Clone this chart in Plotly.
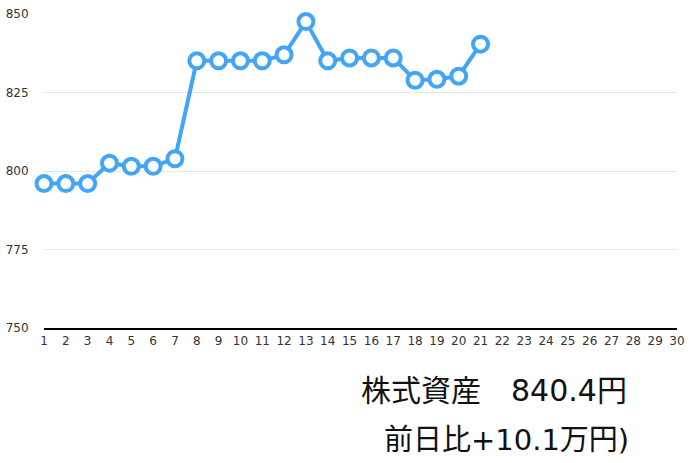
import plotly.graph_objects as go

# 日付 (1..30) と株式資産の推移
days = list(range(1, 31))
asset_days = list(range(1, 22))
asset_values = [796.0, 796.0, 796.0, 802.5, 801.5, 801.5, 803.9,
                835.1, 835.1, 835.1, 835.1, 837.0, 847.6, 835.1,
                836.0, 836.0, 836.0, 828.9, 829.2, 830.2, 840.4]
y_ticks = [750, 775, 800, 825, 850]
summary_line1 = "株式資産　840.4円"
summary_line2 = "前日比+10.1万円)"

BLUE = "#42a5f5"

fig = go.Figure()
fig.add_trace(go.Scatter(
    x=asset_days, y=asset_values, mode="lines+markers",
    line=dict(color=BLUE, width=4),
    marker=dict(size=15, color="white", line=dict(color=BLUE, width=4)),
    cliponaxis=False, showlegend=False,
))

fig.update_layout(
    width=696, height=463,
    margin=dict(l=44, r=19, t=14, b=135),
    plot_bgcolor="white", paper_bgcolor="white",
    font=dict(family="DejaVu Sans", color="#333"),
)
fig.update_xaxes(
    range=[1, 30], tickvals=days, ticktext=[str(d) for d in days],
    showgrid=False, zeroline=False, automargin=False,
    showline=True, linecolor="black", linewidth=1.5,
    ticks="outside", ticklen=1, tickcolor="rgba(0,0,0,0)",
    tickfont=dict(size=12),
)
fig.update_yaxes(
    range=[750, 850], tickvals=y_ticks, automargin=False,
    showgrid=True, gridcolor="#e6e6e6", gridwidth=1, zeroline=False,
    ticks="outside", ticklen=12, tickcolor="rgba(0,0,0,0)",
    tickfont=dict(size=12),
)

fig.add_annotation(
    text=summary_line1, xref="paper", yref="paper",
    x=0.4975, y=-0.198, xanchor="left", yanchor="middle",
    showarrow=False,
    font=dict(size=30, family="DejaVu Sans, Noto Sans CJK JP", color="#111"),
)
fig.add_annotation(
    text=summary_line2, xref="paper", yref="paper",
    x=0.534, y=-0.356, xanchor="left", yanchor="middle",
    showarrow=False,
    font=dict(size=29, family="DejaVu Sans, Noto Sans CJK JP", color="#111"),
)

# drop the default body margin so the figure fills the window exactly
fig.write_html("out.html", config={"displayModeBar": False},
               post_script="document.body.style.margin='0';")
